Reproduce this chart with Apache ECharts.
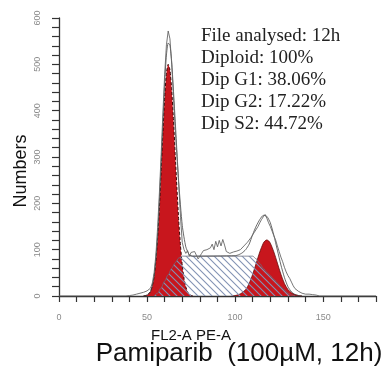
<!DOCTYPE html>
<html><head><meta charset="utf-8">
<script src="https://cdn.jsdelivr.net/npm/echarts@6/dist/echarts.min.js"></script>
<style>html,body{margin:0;padding:0;background:#fff}#c{width:384px;height:368px}</style>
</head><body><div id="c"></div>
<script>
// Raw histogram (jagged)
const rawX = [0,38,40,42,44,46,48,50,51,52,53,54,55,56,57,58,59,60,61,62,63,64,65,66,67,68,69,70,71,72,73,74,75,76,77,78,79,80,81,82,83,84,85,86,87,88,89,90,91,92,93,94,95,96,97,98,99,100,101,102,103,104,105,106,107,108,109,110,111,112,113,114,115,116,117,118,119,120,121,122,123,124,125,126,127,128,129,130,131,132,133,134,135,136,137,138,139,140,141,142,143,144,145,146,148,180];
const rawY = [0,0,1,2,4,6,8,11,13,17,28,50,88,148,222,305,395,478,542,572,555,500,430,360,300,240,170,115,100,92,98,86,94,90,96,88,80,76,92,98,94,100,96,104,112,100,118,106,120,108,122,110,96,94,92,93,95,95,97,100,100,104,108,112,116,120,126,132,138,142,150,158,165,171,176,168,158,150,140,130,121,108,96,84,74,62,52,44,38,30,22,16,12,10,8,6,5,4,3,4,2,3,1,2,0,0];
// Fitted G1 peak
const g1X = [48,50,51,52,53,54,55,56,57,58,59,60,61,62,63,64,65,66,67,68,69,70,71,72,73,74,76];
const g1Y = [0,2,5,10,22,42,75,125,190,270,353,428,481,500,488,445,380,305,230,162,108,66,38,20,9,3,0];
// Fitted S phase
const sX = [54,56,58,60,62,64,66,68,70,110,112,114,116,118,120,122,124,126,128,130,132,134];
const sY = [0,6,18,32,46,60,72,82,86,86,80,70,60,51,44,36,28,20,13,6,2,0];
// Fitted G2 peak
const g2X = [98,100,102,104,106,108,110,112,114,116,117,118,119,120,122,124,126,128,130,132,134,136,138];
const g2Y = [0,1,3,7,14,27,47,71,95,114,119,121,119,114,95,71,47,27,14,7,3,1,0];
// Overall model fit
const fitX = [48,50,52,54,56,58,60,61,62,63,64,66,68,70,72,74,76,100,102,104,106,108,110,112,114,116,118,120,122,124,126,128,130,132,134,136,138];
const fitY = [0,2,10,42,131,288,460,520,546,541,505,377,244,152,106,89,86,87,89,93,100,112,133,151,165,174,172,158,131,99,67,40,20,9,3,1,0];

const statLines = ['File analysed: 12h','Diploid: 100%','Dip G1: 38.06%','Dip G2: 17.22%','Dip S2: 44.72%'];
const xTitle = 'FL2-A PE-A';
const yTitle = 'Numbers';
const caption = 'Pamiparib  (100µM, 12h)';

const zip = (xs, ys) => xs.map((x, i) => [x, ys[i]]);

// hatch pattern
const pc = document.createElement('canvas');
const S = 7; pc.width = S; pc.height = S;
const px = pc.getContext('2d');
px.strokeStyle = '#8393b4'; px.lineWidth = 1.1;
px.beginPath();
px.moveTo(-1,-1); px.lineTo(S+1,S+1);
px.moveTo(-1,S-1); px.lineTo(1,S+1);
px.moveTo(S-1,-1); px.lineTo(S+1,1);
px.stroke();

const red = '#c8161d';
const chart = echarts.init(document.getElementById('c'), null, {renderer:'canvas'});
chart.setOption({
  animation: false,
  grid: {left: 59, right: 8, top: 18, bottom: 72},
  xAxis: {
    type: 'value', min: 0, max: 180, interval: 10,
    axisLine: {lineStyle: {color: '#333', width: 1.3}},
    axisTick: {length: 6, lineStyle: {color: '#333', width: 1.2}},
    axisLabel: {formatter: v => (v % 50 === 0 ? String(v) : ''), color: '#8a8a8a', fontSize: 9, margin: 17, fontFamily: 'Liberation Sans'},
    splitLine: {show: false}
  },
  yAxis: {
    type: 'value', min: 0, max: 600, interval: 20,
    axisLine: {show: true, lineStyle: {color: '#333', width: 1.3}},
    axisTick: {show: true, length: 7, lineStyle: {color: '#333', width: 1.2}},
    axisLabel: {formatter: v => (v % 100 === 0 ? String(v) : ''), rotate: 90, color: '#8a8a8a', fontSize: 9, margin: 17, fontFamily: 'Liberation Sans'},
    splitLine: {show: false}
  },
  series: [
    {type: 'line', data: zip(g1X, g1Y), showSymbol: false, smooth: 0.2,
     lineStyle: {color: '#3a0808', width: 1, type: [3,2]}, areaStyle: {color: red, opacity: 1}, z: 2},
    {type: 'line', data: zip(g2X, g2Y), showSymbol: false, smooth: 0.3,
     lineStyle: {color: '#6a1010', width: 0.8}, areaStyle: {color: red, opacity: 1}, z: 2},
    {type: 'line', data: zip(sX, sY), showSymbol: false, smooth: 0.3, smoothMonotone: 'x',
     lineStyle: {color: '#6a6e80', width: 0.8}, areaStyle: {color: {image: pc, repeat: 'repeat'}, opacity: 1}, z: 3},
    {type: 'line', data: zip(fitX, fitY), showSymbol: false, smooth: 0.2,
     lineStyle: {color: '#444', width: 0.8}, z: 4},
    {type: 'line', data: zip(rawX, rawY), showSymbol: false,
     lineStyle: {color: '#666', width: 0.9}, z: 5}
  ],
  graphic: [
    {type: 'text', left: 201, top: 25, style: {text: statLines.join('\n'), font: '19px "Liberation Serif"', lineHeight: 22, fill: '#222'}},
    {type: 'text', x: 191, y: 336, style: {text: xTitle, font: '15px "Liberation Sans"', fill: '#111', align: 'center', verticalAlign: 'middle'}},
    {type: 'text', x: 239, y: 354, style: {text: caption, font: '26px "Liberation Sans"', fill: '#111', align: 'center', verticalAlign: 'middle'}},
    {type: 'text', x: 21, y: 171, rotation: Math.PI/2, style: {text: yTitle, font: '18px "Liberation Sans"', fill: '#111', align: 'center', verticalAlign: 'middle'}}
  ]
});
</script></body></html>
